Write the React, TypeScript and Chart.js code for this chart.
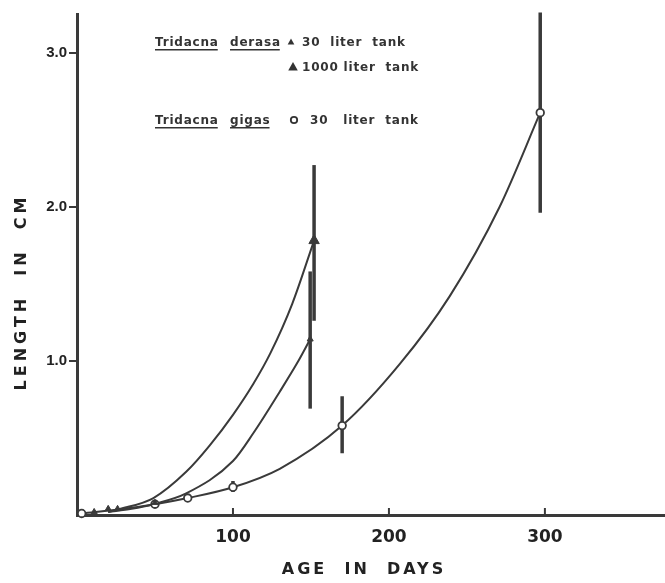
import React, { useEffect, useRef } from 'react';
import { Chart, registerables } from 'chart.js';

Chart.register(...registerables);

const INK = '#3a3a3a';

// Tick definitions
const xTickValues = [100, 200, 300];
const xTickLabels = ['100', '200', '300'];
const yTickValues = [1, 2, 3];
const yTickLabels = ['1.0', '2.0', '3.0'];

// Tridacna gigas, 30 liter tank (open circles)
const gigasDays = [3, 50, 71, 100, 170, 297];
const gigasLength = [0.01, 0.07, 0.11, 0.18, 0.58, 2.61];
const gigasErrDays = [100, 170, 297];
const gigasErrLow = [0.15, 0.4, 1.96];
const gigasErrHigh = [0.22, 0.77, 3.26];

// Tridacna derasa, 30 liter tank (small filled triangles)
const derasa30Days = [11, 20, 26, 50, 149.5];
const derasa30Length = [0.02, 0.04, 0.04, 0.08, 1.14];
const derasa30ErrDays = [149.5];
const derasa30ErrLow = [0.69];
const derasa30ErrHigh = [1.58];

// Tridacna derasa, 1000 liter tank (large filled triangle)
const derasa1000Days = [152];
const derasa1000Length = [1.78];
const derasa1000ErrDays = [152];
const derasa1000ErrLow = [1.26];
const derasa1000ErrHigh = [2.27];

// Fitted growth curves
const curve1000Days = [20, 28, 49, 70, 85, 100, 113, 124, 138, 152];
const curve1000Length = [0.02, 0.04, 0.11, 0.28, 0.45, 0.65, 0.85, 1.05, 1.37, 1.78];
const curve30Days = [20, 35, 49, 70, 100, 113, 130, 142, 149.5];
const curve30Length = [0.02, 0.04, 0.07, 0.14, 0.35, 0.53, 0.8, 1.0, 1.14];
const curveGigasDays = [3, 30, 50, 71, 100, 130, 170, 207, 239, 271, 297];
const curveGigasLength = [0.01, 0.04, 0.07, 0.11, 0.18, 0.3, 0.58, 0.98, 1.42, 2.0, 2.61];

const pts = (xs: number[], ys: number[]) => xs.map((x, i) => ({ x, y: ys[i] }));
const errPts = (xs: number[], lo: number[], hi: number[]) => {
  const out: any[] = [];
  xs.forEach((x, i) => {
    out.push({ x, y: lo[i] });
    out.push({ x, y: hi[i] });
    out.push({ x, y: null });
  });
  return out;
};

const curveDs = (xs: number[], ys: number[]) => ({
  type: 'line' as const,
  data: pts(xs, ys),
  borderColor: INK,
  borderWidth: 2,
  pointRadius: 0,
  fill: false,
  showLine: true,
  cubicInterpolationMode: 'monotone' as const,
  order: 3,
});

const errDs = (xs: number[], lo: number[], hi: number[]) => ({
  type: 'line' as const,
  data: errPts(xs, lo, hi),
  borderColor: INK,
  borderWidth: 3.5,
  pointRadius: 0,
  fill: false,
  showLine: true,
  spanGaps: false,
  tension: 0,
  order: 2,
});

const overlay = {
  id: 'overlay',
  afterDraw(chart: any) {
    const ctx = chart.ctx as CanvasRenderingContext2D;
    const xs = chart.scales.x;
    const area = chart.chartArea;
    ctx.save();
    // x tick marks pointing up into the plot
    ctx.strokeStyle = INK;
    ctx.lineWidth = 2;
    xTickValues.forEach((v) => {
      const px = xs.getPixelForValue(v);
      ctx.beginPath();
      ctx.moveTo(px, area.bottom);
      ctx.lineTo(px, area.bottom - 7);
      ctx.stroke();
    });
    // axis titles
    ctx.fillStyle = '#222';
    ctx.font = 'bold 16px "DejaVu Sans", sans-serif';
    (ctx as any).letterSpacing = '3px';
    ctx.textAlign = 'center';
    ctx.textBaseline = 'middle';
    ctx.fillText('AGE  IN  DAYS', 364, 570);
    (ctx as any).letterSpacing = '4px';
    ctx.save();
    ctx.translate(22, 292);
    ctx.rotate(-Math.PI / 2);
    ctx.fillText('LENGTH  IN  CM', 0, 0);
    ctx.restore();

    // legend
    (ctx as any).letterSpacing = '0.8px';
    ctx.font = 'bold 12px "DejaVu Sans", sans-serif';
    ctx.textAlign = 'left';
    ctx.textBaseline = 'alphabetic';
    ctx.fillStyle = '#333';
    const word = (t: string, x: number, y: number, underline: boolean) => {
      ctx.fillText(t, x, y);
      if (underline) {
        const w = ctx.measureText(t).width;
        ctx.fillRect(x, y + 3, w - 1, 1.5);
      }
    };
    const tri = (cx: number, cy: number, r: number) => {
      ctx.beginPath();
      ctx.moveTo(cx, cy - r);
      ctx.lineTo(cx + r * 0.95, cy + r * 0.7);
      ctx.lineTo(cx - r * 0.95, cy + r * 0.7);
      ctx.closePath();
      ctx.fill();
    };
    word('Tridacna', 155, 46, true);
    word('derasa', 230, 46, true);
    tri(291, 42, 3.5);
    word('30  liter  tank', 302, 46, false);
    tri(293, 67, 5);
    word('1000 liter  tank', 302, 71, false);
    word('Tridacna', 155, 124, true);
    word('gigas', 230, 124, true);
    ctx.beginPath();
    ctx.strokeStyle = '#333';
    ctx.lineWidth = 1.8;
    ctx.arc(294, 120, 3.2, 0, Math.PI * 2);
    ctx.stroke();
    word('30   liter  tank', 310, 124, false);
    ctx.restore();
  },
};

export default function App() {
  const ref = useRef<HTMLCanvasElement | null>(null);
  useEffect(() => {
    if (!ref.current) return;
    const chart = new Chart(ref.current, {
      type: 'scatter',
      data: {
        datasets: [
          {
            type: 'scatter',
            data: pts(derasa1000Days, derasa1000Length),
            pointStyle: 'triangle',
            pointRadius: 6,
            backgroundColor: INK,
            borderColor: INK,
            borderWidth: 1,
            order: 0,
          } as any,
          {
            type: 'scatter',
            data: pts(derasa30Days, derasa30Length),
            pointStyle: 'triangle',
            pointRadius: 3.5,
            backgroundColor: INK,
            borderColor: INK,
            borderWidth: 1,
            order: 0,
          } as any,
          {
            type: 'scatter',
            data: pts(gigasDays, gigasLength),
            pointStyle: 'circle',
            pointRadius: 3.8,
            backgroundColor: '#ffffff',
            borderColor: INK,
            borderWidth: 1.8,
            order: 0,
          } as any,
          errDs(gigasErrDays, gigasErrLow, gigasErrHigh) as any,
          errDs(derasa30ErrDays, derasa30ErrLow, derasa30ErrHigh) as any,
          errDs(derasa1000ErrDays, derasa1000ErrLow, derasa1000ErrHigh) as any,
          curveDs(curve1000Days, curve1000Length) as any,
          curveDs(curve30Days, curve30Length) as any,
          curveDs(curveGigasDays, curveGigasLength) as any,
        ],
      },
      options: {
        animation: false,
        responsive: false,
        events: [],
        clip: false as any,
        layout: { autoPadding: false, padding: { top: 14, left: 0, right: 0, bottom: 0 } },
        plugins: { legend: { display: false }, tooltip: { enabled: false } },
        scales: {
          x: {
            type: 'linear',
            min: 0,
            max: 377,
            afterBuildTicks: (s: any) => {
              s.ticks = xTickValues.map((v) => ({ value: v }));
            },
            afterFit: (s: any) => {
              s.height = 68;
            },
            grid: { display: false, drawTicks: false },
            border: { display: true, color: INK, width: 3 },
            ticks: {
              color: '#222',
              padding: 12,
              font: { family: '"DejaVu Sans", sans-serif', size: 17, weight: 'bold' },
              callback: (v: any) => {
                const i = xTickValues.indexOf(Number(v));
                return i >= 0 ? xTickLabels[i] : '';
              },
            },
          },
          y: {
            type: 'linear',
            min: 0,
            max: 3.25,
            afterBuildTicks: (s: any) => {
              s.ticks = yTickValues.map((v) => ({ value: v }));
            },
            afterFit: (s: any) => {
              s.width = 77;
            },
            grid: { display: true, drawOnChartArea: false, drawTicks: true, tickLength: 8, color: INK, lineWidth: 2 },
            border: { display: true, color: INK, width: 3 },
            ticks: {
              color: '#222',
              padding: 2,
              font: { family: '"Liberation Sans", Arial, sans-serif', size: 15, weight: 'bold' },
              callback: (v: any) => {
                const i = yTickValues.indexOf(Number(v));
                return i >= 0 ? yTickLabels[i] : '';
              },
            },
          },
        },
      } as any,
      plugins: [overlay],
    });
    return () => chart.destroy();
  }, []);
  return (
    <div style={{ position: 'absolute', left: 0, top: 0, width: 665, height: 583, background: '#ffffff' }}>
      <canvas ref={ref} width={665} height={583} style={{ display: 'block' }} />
    </div>
  );
}
